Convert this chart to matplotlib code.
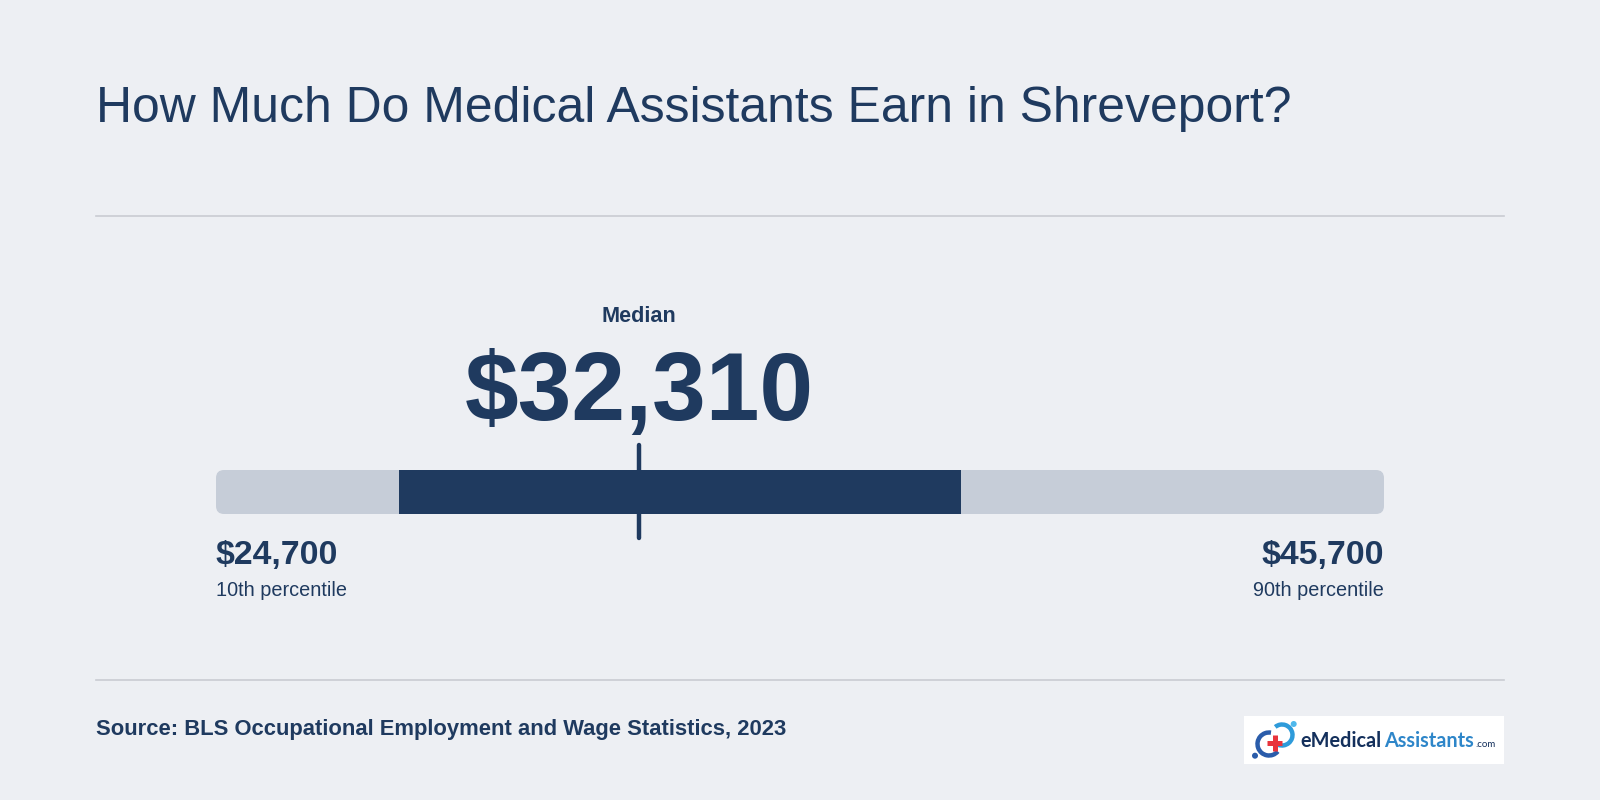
import matplotlib
matplotlib.use('Agg')
import matplotlib.pyplot as plt
from matplotlib.patches import FancyBboxPatch, Rectangle, Arc, Circle

plt.rcParams['font.family'] = ['Liberation Sans', 'DejaVu Sans']

# Data
p10 = 24700
p25 = 27990
median = 32310
p75 = 38100
p90 = 45700
title = 'How Much Do Medical Assistants Earn in Shreveport?'
source = 'Source: BLS Occupational Employment and Wage Statistics, 2023'

NAVY = '#1F3A5F'
TRACK = '#C6CDD8'
BG = '#EDEFF3'
RULE = '#C9CCD2'

fig = plt.figure(figsize=(16, 8), dpi=100, facecolor=BG)

# overlay in pixel coords for text and rules
page = fig.add_axes([0, 0, 1, 1])
page.set_xlim(0, 1600)
page.set_ylim(800, 0)
page.axis('off')

page.text(96, 121.5, title, fontsize=35.9, color=NAVY, ha='left', va='baseline')
page.plot([96, 1504], [216, 216], color=RULE, lw=1.2)
page.plot([96, 1504], [680, 680], color=RULE, lw=1.2)
page.text(96, 735, source, fontsize=15.85, fontweight='bold', color=NAVY, va='baseline')

# ── Bar ──────────────────────────────────────────────────────────────────────
BAR_L, BAR_R, BAR_T, BAR_B = 216, 1384, 470, 514
ax = fig.add_axes([BAR_L / 1600, 1 - BAR_B / 800, (BAR_R - BAR_L) / 1600, (BAR_B - BAR_T) / 800])
ax.set_xlim(p10, p90)
ax.set_ylim(0, 1)
ax.axis('off')

x_per_px = (p90 - p10) / (BAR_R - BAR_L)
y_per_px = 1 / (BAR_B - BAR_T)
rad = 8 * x_per_px
ax.add_patch(FancyBboxPatch((p10 + rad, rad * y_per_px / x_per_px),
                            p90 - p10 - 2 * rad, 1 - 2 * rad * y_per_px / x_per_px,
                            boxstyle=f'round,pad={rad},rounding_size={rad}',
                            mutation_aspect=y_per_px / x_per_px,
                            fc=TRACK, ec='none', clip_on=False))
ax.barh(0.5, p75 - p25, left=p25, height=1, color=NAVY, lw=0)
ax.plot([median, median], [-0.545, 1.57], color=NAVY, lw=3.2, solid_capstyle='round', clip_on=False)

# ── Labels ───────────────────────────────────────────────────────────────────
page.text(639, 322, 'Median', fontsize=15.6, fontweight='bold', color=NAVY, ha='center', va='baseline')
page.text(639, 420, f'${median:,}', fontsize=69.5, fontweight='bold', color=NAVY, ha='center', va='baseline')
page.text(216, 564, f'${p10:,}', fontsize=24.4, fontweight='bold', color=NAVY, ha='left', va='baseline')
page.text(216, 596, '10th percentile', fontsize=14.3, color=NAVY, ha='left', va='baseline')
page.text(1384, 564, f'${p90:,}', fontsize=24.4, fontweight='bold', color=NAVY, ha='right', va='baseline')
page.text(1384, 596, '90th percentile', fontsize=14.3, color=NAVY, ha='right', va='baseline')

# ── Logo ─────────────────────────────────────────────────────────────────────
page.add_patch(Rectangle((1244, 716), 260, 48, fc='white', ec='none', zorder=2))
page.add_patch(Arc((1269, 744), 23, 23, theta1=40, theta2=280, color='#2A5CAA', lw=3.2, zorder=3))
page.add_patch(Arc((1282, 735), 21, 21, theta1=230, theta2=110, color='#2E9BDA', lw=3.2, zorder=3))
page.add_patch(Circle((1255, 755.7), 3, fc='#2A5CAA', ec='none', zorder=3))
page.add_patch(Circle((1293.7, 724), 3, fc='#4FB8EC', ec='none', zorder=3))
page.plot([1267, 1282], [742.7, 742.7], color='#E8343C', lw=3.6, zorder=4, solid_capstyle='butt')
page.plot([1274.7, 1274.7], [735, 750.5], color='#E8343C', lw=3.6, zorder=4, solid_capstyle='butt')
page.text(1300.5, 747, 'eMedical', fontsize=14.3, family='Lato', fontweight='bold', color='#14305C', va='baseline', zorder=4)
page.text(1384, 747, 'Assistants', fontsize=14.3, family='Lato', fontweight='bold', color='#2E86C9', va='baseline', zorder=4)
page.text(1475, 747, '.com', fontsize=7, family='Lato', color='#14305C', va='baseline', zorder=4)

fig.savefig('out.png', dpi=100, facecolor=BG)
